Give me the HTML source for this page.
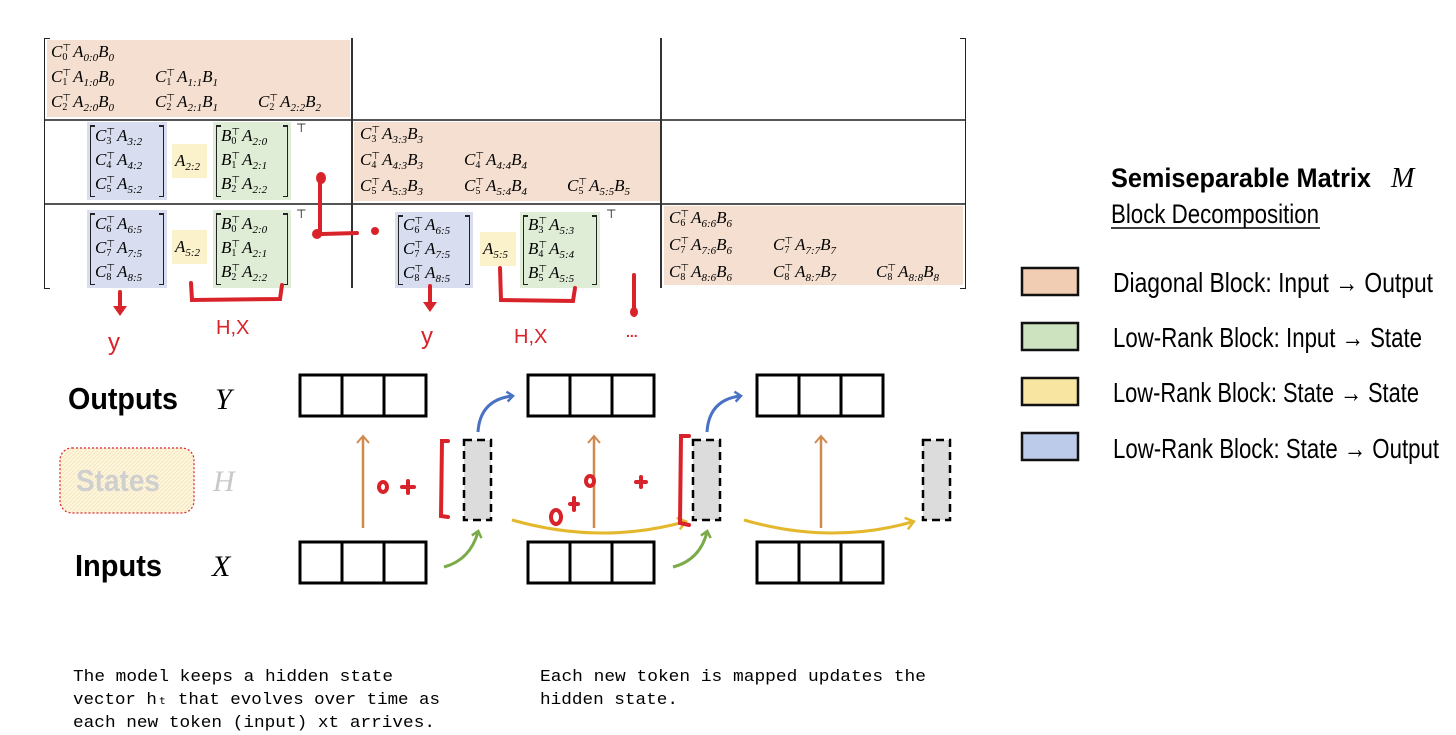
<!DOCTYPE html>
<html><head><meta charset="utf-8"><style>
body{margin:0;width:1456px;height:735px;background:#fff;position:relative;overflow:hidden;font-family:"Liberation Serif",serif}
.a{position:absolute}
.e{position:absolute;font-size:17px;font-family:"Liberation Serif",serif;white-space:nowrap;line-height:16px}
.e i{font-style:italic}
.e sub{font-size:11px;vertical-align:-4px;font-style:italic}
.ss{display:inline-block;vertical-align:-3px;font-size:10px;line-height:9px;margin-right:2px;font-style:normal}
.br{position:absolute;border:1.5px solid #222;border-top:none;border-bottom:none}
.br:before,.br:after{content:"";position:absolute;left:-1px;right:-1px;height:1.5px;background:linear-gradient(90deg,#222 0,#222 5px,transparent 5px,transparent calc(100% - 5px),#222 calc(100% - 5px))}
.br:before{top:0}
.br:after{bottom:0}
</style></head><body>

<div class="a" style="left:47px;top:40px;width:303px;height:77px;background:#f5dfd0"></div>
<div class="a" style="left:354px;top:122px;width:306px;height:79px;background:#f5dfd0"></div>
<div class="a" style="left:664px;top:206px;width:299px;height:79px;background:#f5dfd0"></div>

<div class="a" style="left:45px;top:119px;width:921px;height:1.5px;background:#555"></div>
<div class="a" style="left:45px;top:203px;width:921px;height:1.5px;background:#555"></div>
<div class="a" style="left:351px;top:38px;width:1.5px;height:250px;background:#333"></div>
<div class="a" style="left:660px;top:38px;width:1.5px;height:250px;background:#333"></div>
<div class="a" style="left:44px;top:38px;width:5px;height:249px;border:1.5px solid #222;border-right:none"></div>
<div class="a" style="left:960px;top:38px;width:5px;height:249px;border:1.5px solid #222;border-left:none"></div>

<div class="e" style="left:51px;top:44px"><i>C</i><span class="ss">⊤<br>0</span><i>A</i><sub>0:0</sub><i>B</i><sub>0</sub></div>
<div class="e" style="left:51px;top:69px"><i>C</i><span class="ss">⊤<br>1</span><i>A</i><sub>1:0</sub><i>B</i><sub>0</sub></div>
<div class="e" style="left:155px;top:69px"><i>C</i><span class="ss">⊤<br>1</span><i>A</i><sub>1:1</sub><i>B</i><sub>1</sub></div>
<div class="e" style="left:51px;top:94px"><i>C</i><span class="ss">⊤<br>2</span><i>A</i><sub>2:0</sub><i>B</i><sub>0</sub></div>
<div class="e" style="left:155px;top:94px"><i>C</i><span class="ss">⊤<br>2</span><i>A</i><sub>2:1</sub><i>B</i><sub>1</sub></div>
<div class="e" style="left:258px;top:94px"><i>C</i><span class="ss">⊤<br>2</span><i>A</i><sub>2:2</sub><i>B</i><sub>2</sub></div>
<div class="e" style="left:360px;top:126px"><i>C</i><span class="ss">⊤<br>3</span><i>A</i><sub>3:3</sub><i>B</i><sub>3</sub></div>
<div class="e" style="left:360px;top:152px"><i>C</i><span class="ss">⊤<br>4</span><i>A</i><sub>4:3</sub><i>B</i><sub>3</sub></div>
<div class="e" style="left:464px;top:152px"><i>C</i><span class="ss">⊤<br>4</span><i>A</i><sub>4:4</sub><i>B</i><sub>4</sub></div>
<div class="e" style="left:360px;top:178px"><i>C</i><span class="ss">⊤<br>5</span><i>A</i><sub>5:3</sub><i>B</i><sub>3</sub></div>
<div class="e" style="left:464px;top:178px"><i>C</i><span class="ss">⊤<br>5</span><i>A</i><sub>5:4</sub><i>B</i><sub>4</sub></div>
<div class="e" style="left:567px;top:178px"><i>C</i><span class="ss">⊤<br>5</span><i>A</i><sub>5:5</sub><i>B</i><sub>5</sub></div>
<div class="e" style="left:669px;top:210px"><i>C</i><span class="ss">⊤<br>6</span><i>A</i><sub>6:6</sub><i>B</i><sub>6</sub></div>
<div class="e" style="left:669px;top:237px"><i>C</i><span class="ss">⊤<br>7</span><i>A</i><sub>7:6</sub><i>B</i><sub>6</sub></div>
<div class="e" style="left:773px;top:237px"><i>C</i><span class="ss">⊤<br>7</span><i>A</i><sub>7:7</sub><i>B</i><sub>7</sub></div>
<div class="e" style="left:669px;top:264px"><i>C</i><span class="ss">⊤<br>8</span><i>A</i><sub>8:6</sub><i>B</i><sub>6</sub></div>
<div class="e" style="left:773px;top:264px"><i>C</i><span class="ss">⊤<br>8</span><i>A</i><sub>8:7</sub><i>B</i><sub>7</sub></div>
<div class="e" style="left:876px;top:264px"><i>C</i><span class="ss">⊤<br>8</span><i>A</i><sub>8:8</sub><i>B</i><sub>8</sub></div>

<div class="a" style="left:87px;top:122px;width:80px;height:78px;background:#d8def0"></div>
<div class="br" style="left:90px;top:125px;width:72px;height:72px"></div>
<div class="e" style="left:95px;top:128px"><i>C</i><span class="ss">⊤<br>3</span><i>A</i><sub>3:2</sub></div>
<div class="e" style="left:95px;top:152px"><i>C</i><span class="ss">⊤<br>4</span><i>A</i><sub>4:2</sub></div>
<div class="e" style="left:95px;top:176px"><i>C</i><span class="ss">⊤<br>5</span><i>A</i><sub>5:2</sub></div>
<div class="a" style="left:172px;top:144px;width:35px;height:34px;background:#fbf1cb"></div>
<div class="e" style="left:175px;top:153px"><i>A</i><sub>2:2</sub></div>
<div class="a" style="left:213px;top:122px;width:78px;height:78px;background:#dfecd6"></div>
<div class="br" style="left:216px;top:125px;width:70px;height:72px"></div>
<div class="e" style="left:221px;top:128px"><i>B</i><span class="ss">⊤<br>0</span><i>A</i><sub>2:0</sub></div>
<div class="e" style="left:221px;top:152px"><i>B</i><span class="ss">⊤<br>1</span><i>A</i><sub>2:1</sub></div>
<div class="e" style="left:221px;top:176px"><i>B</i><span class="ss">⊤<br>2</span><i>A</i><sub>2:2</sub></div>
<div class="e" style="left:296px;top:120px;font-size:12px">⊤</div>

<div class="a" style="left:87px;top:210px;width:80px;height:78px;background:#d8def0"></div>
<div class="br" style="left:90px;top:213px;width:72px;height:72px"></div>
<div class="e" style="left:95px;top:216px"><i>C</i><span class="ss">⊤<br>6</span><i>A</i><sub>6:5</sub></div>
<div class="e" style="left:95px;top:240px"><i>C</i><span class="ss">⊤<br>7</span><i>A</i><sub>7:5</sub></div>
<div class="e" style="left:95px;top:264px"><i>C</i><span class="ss">⊤<br>8</span><i>A</i><sub>8:5</sub></div>
<div class="a" style="left:172px;top:230px;width:35px;height:34px;background:#fbf1cb"></div>
<div class="e" style="left:175px;top:239px"><i>A</i><sub>5:2</sub></div>
<div class="a" style="left:213px;top:210px;width:78px;height:78px;background:#dfecd6"></div>
<div class="br" style="left:216px;top:213px;width:70px;height:72px"></div>
<div class="e" style="left:221px;top:216px"><i>B</i><span class="ss">⊤<br>0</span><i>A</i><sub>2:0</sub></div>
<div class="e" style="left:221px;top:240px"><i>B</i><span class="ss">⊤<br>1</span><i>A</i><sub>2:1</sub></div>
<div class="e" style="left:221px;top:264px"><i>B</i><span class="ss">⊤<br>2</span><i>A</i><sub>2:2</sub></div>
<div class="e" style="left:296px;top:206px;font-size:12px">⊤</div>

<div class="a" style="left:395px;top:212px;width:78px;height:76px;background:#d8def0"></div>
<div class="br" style="left:398px;top:215px;width:70px;height:70px"></div>
<div class="e" style="left:403px;top:217px"><i>C</i><span class="ss">⊤<br>6</span><i>A</i><sub>6:5</sub></div>
<div class="e" style="left:403px;top:241px"><i>C</i><span class="ss">⊤<br>7</span><i>A</i><sub>7:5</sub></div>
<div class="e" style="left:403px;top:265px"><i>C</i><span class="ss">⊤<br>8</span><i>A</i><sub>8:5</sub></div>
<div class="a" style="left:480px;top:232px;width:36px;height:34px;background:#fbf1cb"></div>
<div class="e" style="left:483px;top:241px"><i>A</i><sub>5:5</sub></div>
<div class="a" style="left:520px;top:212px;width:80px;height:76px;background:#dfecd6"></div>
<div class="br" style="left:523px;top:215px;width:72px;height:70px"></div>
<div class="e" style="left:528px;top:217px"><i>B</i><span class="ss">⊤<br>3</span><i>A</i><sub>5:3</sub></div>
<div class="e" style="left:528px;top:241px"><i>B</i><span class="ss">⊤<br>4</span><i>A</i><sub>5:4</sub></div>
<div class="e" style="left:528px;top:265px"><i>B</i><span class="ss">⊤<br>5</span><i>A</i><sub>5:5</sub></div>
<div class="e" style="left:606px;top:206px;font-size:12px">⊤</div>

<svg class="a" style="left:0;top:0" width="1456" height="735" viewBox="0 0 1456 735">
<defs>
<marker id="mo" markerWidth="14" markerHeight="14" refX="7" refY="7" orient="auto" markerUnits="userSpaceOnUse"><path d="M1,1 L8,7 L1,13" fill="none" stroke="#d08a4e" stroke-width="2"/></marker>
<marker id="mb" markerWidth="12" markerHeight="12" refX="6" refY="6" orient="auto" markerUnits="userSpaceOnUse"><path d="M1,1 L7,6 L1,11" fill="none" stroke="#4a72c4" stroke-width="2.5"/></marker>
<marker id="mg" markerWidth="12" markerHeight="12" refX="6" refY="6" orient="auto" markerUnits="userSpaceOnUse"><path d="M1,1 L7,6 L1,11" fill="none" stroke="#7aab48" stroke-width="2.5"/></marker>
<marker id="my" markerWidth="14" markerHeight="14" refX="7" refY="7" orient="auto" markerUnits="userSpaceOnUse"><path d="M1,1 L9,7 L1,13" fill="none" stroke="#e4b82c" stroke-width="2.5"/></marker>
<pattern id="hatch" width="4" height="4" patternUnits="userSpaceOnUse"><rect width="4" height="4" fill="#fdf5dc"/><path d="M0,4 L4,0" stroke="#f6e8c0" stroke-width="1"/></pattern>
</defs>

<g stroke="#d9232a" fill="none" stroke-linecap="round" stroke-width="4">
<path d="M320,176 L320,232 M322,234 L357,233"/>
<path d="M120,292 L120,308"/>
<path d="M191,283 L192,300 L280,299 L282,285"/>
<path d="M430,286 L430,303"/>
<path d="M500,268 L501,300 L573,301 L575,288"/>
<path d="M634,275 L634,308"/>
</g>
<g fill="#d9232a">
<ellipse cx="321" cy="178" rx="5" ry="6"/><circle cx="317" cy="234" r="5"/><circle cx="375" cy="231" r="4"/>
<path d="M113,306 L127,306 L120,316Z"/><path d="M423,302 L437,302 L430,312Z"/>
<ellipse cx="634" cy="312" rx="4" ry="5"/>
</g>
<g fill="#d9232a" font-family="Liberation Sans, sans-serif" font-size="24">
<text x="108" y="350">y</text><text x="421" y="344">y</text>
<text x="216" y="334" font-size="20">H,X</text><text x="514" y="343" font-size="20">H,X</text>
<text x="626" y="337" font-size="14" font-weight="bold">...</text>
</g>

<g fill="none" stroke="#000" stroke-width="3">
<rect x="300" y="375" width="126" height="41"/><path d="M342,375V416M384,375V416"/>
<rect x="528" y="375" width="126" height="41"/><path d="M570,375V416M612,375V416"/>
<rect x="757" y="375" width="126" height="41"/><path d="M799,375V416M841,375V416"/>
<rect x="300" y="542" width="126" height="41"/><path d="M342,542V583M384,542V583"/>
<rect x="528" y="542" width="126" height="41"/><path d="M570,542V583M612,542V583"/>
<rect x="757" y="542" width="126" height="41"/><path d="M799,542V583M841,542V583"/>
</g>
<g fill="#dcdcdc" stroke="#000" stroke-width="2.5" stroke-dasharray="8,5">
<rect x="464" y="440" width="27" height="80"/>
<rect x="693" y="440" width="27" height="80"/>
<rect x="923" y="440" width="27" height="80"/>
</g>

<text x="68" y="409" font-family="Liberation Sans, sans-serif" font-weight="bold" font-size="31" textLength="110" lengthAdjust="spacingAndGlyphs">Outputs</text>
<text x="215" y="409" font-family="Liberation Serif, serif" font-style="italic" font-size="30">Y</text>
<rect x="60" y="448" width="134" height="65" rx="12" fill="url(#hatch)" stroke="#d9232a" stroke-width="1.2" stroke-dasharray="2,2"/>
<text x="76" y="491" font-family="Liberation Sans, sans-serif" font-weight="bold" font-size="31" fill="#cfcfcf" textLength="84" lengthAdjust="spacingAndGlyphs">States</text>
<text x="213" y="491" font-family="Liberation Serif, serif" font-style="italic" font-size="30" fill="#c8c8c8">H</text>
<text x="75" y="576" font-family="Liberation Sans, sans-serif" font-weight="bold" font-size="31" textLength="87" lengthAdjust="spacingAndGlyphs">Inputs</text>
<text x="212" y="576" font-family="Liberation Serif, serif" font-style="italic" font-size="30">X</text>

<g fill="none" stroke-width="2.5">
<path d="M363,528 L363,437" stroke="#d08a4e" marker-end="url(#mo)"/>
<path d="M594,528 L594,437" stroke="#d08a4e" marker-end="url(#mo)"/>
<path d="M821,528 L821,437" stroke="#d08a4e" marker-end="url(#mo)"/>
<path d="M478,432 Q480,400 512,396" stroke="#4a72c4" stroke-width="3" marker-end="url(#mb)"/>
<path d="M707,432 Q709,400 740,396" stroke="#4a72c4" stroke-width="3" marker-end="url(#mb)"/>
<path d="M444,567 Q470,560 478,532" stroke="#7aab48" stroke-width="3" marker-end="url(#mg)"/>
<path d="M673,567 Q700,560 707,532" stroke="#7aab48" stroke-width="3" marker-end="url(#mg)"/>
<path d="M512,520 Q600,545 684,522" stroke="#e4b82c" stroke-width="3" marker-end="url(#my)"/>
<path d="M744,520 Q830,545 912,522" stroke="#e4b82c" stroke-width="3" marker-end="url(#my)"/>
</g>

<g stroke="#d9232a" fill="none" stroke-width="4" stroke-linecap="round">
<path d="M448,441 L442,441 L441,516 L448,517"/>
<path d="M689,436 L681,436 L680,523 L689,525"/>
<ellipse cx="383" cy="487" rx="4" ry="5"/>
<path d="M402,487 L414,487 M408,481 L408,493"/>
<path d="M570,504 L578,504 M574,498 L574,510"/>
<ellipse cx="556" cy="517" rx="5" ry="7"/>
<ellipse cx="590" cy="481" rx="4" ry="5"/>
<path d="M636,482 L646,482 M641,477 L641,487"/>
</g>

<text x="1111" y="187" font-family="Liberation Sans, sans-serif" font-weight="bold" font-size="27" textLength="260" lengthAdjust="spacingAndGlyphs">Semiseparable Matrix</text>
<text x="1391" y="187" font-family="Liberation Serif, serif" font-style="italic" font-size="28">M</text>
<text x="1111" y="223" font-family="Liberation Sans, sans-serif" font-size="27" textLength="208" lengthAdjust="spacingAndGlyphs">Block Decomposition</text>
<path d="M1111,228 H1320" stroke="#000" stroke-width="1.5"/>
<g stroke="#111" stroke-width="2.5">
<rect x="1022" y="268" width="56" height="27" fill="#f1cdb3"/>
<rect x="1022" y="323" width="56" height="27" fill="#cde3c0"/>
<rect x="1022" y="378" width="56" height="27" fill="#f8e5a2"/>
<rect x="1022" y="433" width="56" height="27" fill="#bccbea"/>
</g>
<g font-family="Liberation Sans, sans-serif" font-size="28">
<text x="1113" y="292" textLength="320" lengthAdjust="spacingAndGlyphs">Diagonal Block: Input → Output</text>
<text x="1113" y="347" textLength="309" lengthAdjust="spacingAndGlyphs">Low-Rank Block: Input → State</text>
<text x="1113" y="402" textLength="306" lengthAdjust="spacingAndGlyphs">Low-Rank Block: State → State</text>
<text x="1113" y="458" textLength="326" lengthAdjust="spacingAndGlyphs">Low-Rank Block: State → Output</text>
</g>

<g font-family="Liberation Mono, monospace" font-size="17">
<text x="73" y="681" textLength="320" lengthAdjust="spacingAndGlyphs">The model keeps a hidden state</text>
<text x="73" y="704" textLength="367" lengthAdjust="spacingAndGlyphs">vector hₜ that evolves over time as</text>
<text x="73" y="727" textLength="362" lengthAdjust="spacingAndGlyphs">each new token (input) xt arrives.</text>
<text x="540" y="681" textLength="386" lengthAdjust="spacingAndGlyphs">Each new token is mapped updates the</text>
<text x="540" y="704" textLength="138" lengthAdjust="spacingAndGlyphs">hidden state.</text>
</g>
</svg>
</body></html>
